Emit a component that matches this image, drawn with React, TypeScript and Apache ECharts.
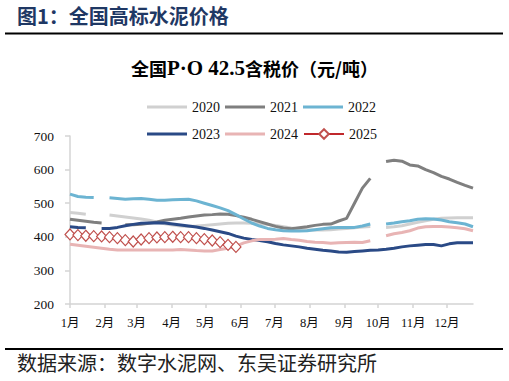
import React, { useEffect, useRef } from "react";
import * as echarts from "echarts";

const monthLabels = ["1月", "2月", "3月", "4月", "5月", "6月", "7月", "8月", "9月", "10月", "11月", "12月"];
const monthStartDays = [0, 31, 59, 90, 120, 151, 181, 212, 243, 273, 304, 334];
const yearNames = ["2020", "2021", "2022", "2023", "2024", "2025"];

// weekly prices (元/吨), week 1 .. week 52; null = no quote (holiday)
const p2020 = [472, 470, 467, null, null, 465, 462, 459, 456, 453, 449, 444, 439, 435, 432, 431, 432, 434, 436, 438, 440, 441, 441, 440, 439, 437, 434, 430, 426, 423, 421, 420, 420, 421, 423, 425, 427, 429, 431, null, 428, 430, 433, 438, 443, 448, 452, 455, 456, 457, 457, 457];
const p2021 = [452, 449, 446, 443, 441, null, null, 436, 436, 437, 440, 444, 449, 452, 455, 459, 462, 465, 466, 468, 467, 463, 458, 452, 445, 438, 431, 426, 424, 427, 430, 434, 437, 438, 447, 455, 500, 545, 574, null, 624, 628, 625, 614, 611, 600, 591, 580, 572, 562, 553, 545];
const p2022 = [527, 520, 518, 517, null, 516, 514, 512, 513, 514, 512, 509, 509, 510, 511, 512, 507, 500, 493, 486, 478, 466, 453, 441, 432, 425, 421, 418, 417, 417, 418, 421, 424, 427, 428, 428, 428, 432, 438, null, 438, 441, 445, 448, 452, 454, 453, 450, 445, 442, 438, 430];
const p2023 = [430, 428, 427, null, 425, 425, 428, 433, 437, 440, 441, 442, 441, 438, 435, 432, 429, 425, 420, 415, 410, 402, 396, 392, 389, 385, 380, 376, 373, 370, 366, 363, 360, 358, 355, 354, 356, 358, 360, 361, 363, 366, 370, 373, 375, 377, 377, 373, 379, 382, 382, 382];
const p2024 = [378, 375, 372, 369, 366, 363, 361, 361, 361, 361, 361, 361, 361, 361, 362, 361, 359, 358, 358, 362, 366, 372, 382, 388, 392, 392, 393, 395, 392, 390, 386, 384, 383, 381, 382, 383, 384, 383, 388, null, 403, 409, 413, 418, 426, 430, 431, 431, 429, 427, 424, 418];
const p2025 = [407, 405, 403, 402, 401, 399, 396, 390, 386, 392, 396, 398, 399, 400, 399, 399, 396, 393, 389, 384, 376, 370];

const seriesValues = [p2020, p2021, p2022, p2023, p2024, p2025];
const seriesColors = ["#d0d0d0", "#7f7f7f", "#6cb4d2", "#2a4a86", "#e8b4b4", "#c0282c"];

const SERIF = "'Times New Roman', 'Liberation Serif', 'Noto Sans CJK SC', serif";
const CJK = "'Noto Sans CJK SC', 'Liberation Serif', sans-serif";
const LINE_ICON = "path://M0,0 L40,0 L40,3 L0,3 Z";

export default function App() {
  const ref = useRef<HTMLDivElement>(null);

  useEffect(() => {
    document.body.style.margin = "0";
    if (!ref.current) return;
    const chart = echarts.init(ref.current, undefined, { renderer: "svg" });

    const series = seriesValues.map((vals, si) => {
      const isLast = si === 5;
      return {
        name: yearNames[si],
        type: "line",
        data: vals.map((v, i) => [i * 7, v === null ? "-" : v]),
        connectNulls: false,
        symbol: isLast ? "diamond" : "none",
        symbolSize: isLast ? [10, 11] : 0,
        showSymbol: isLast,
        lineStyle: { color: seriesColors[si], width: isLast ? 2.5 : 3 },
        itemStyle: isLast
          ? { color: "#ffffff", borderColor: "#c0504d", borderWidth: 1.2 }
          : { color: seriesColors[si] },
        z: 2 + si,
      };
    });

    const legendItem = (name: string, i: number) =>
      i === 5 ? { name } : { name, icon: LINE_ICON };

    const legendCommon = {
      left: 142,
      itemWidth: 40,
      itemHeight: 12,
      itemGap: 5,
      textStyle: { fontFamily: SERIF, fontSize: 14, color: "#111" },
    };

    chart.setOption({
      animation: false,
      backgroundColor: "#ffffff",
      title: {
        left: "center",
        top: 52,
        text: "{c|全国}{l|P·O 42.5}{c|含税价（元/吨）}",
        textStyle: {
          rich: {
            c: { fontFamily: CJK, fontWeight: "bold", fontSize: 18, color: "#000" },
            l: { fontFamily: SERIF, fontWeight: "bold", fontSize: 21, color: "#000" },
          },
        },
      },
      legend: [
        { ...legendCommon, top: 95, data: yearNames.slice(0, 3).map((n, i) => legendItem(n, i)) },
        { ...legendCommon, top: 122, data: yearNames.slice(3, 6).map((n, i) => legendItem(n, i + 3)) },
      ],
      grid: { left: 70, right: 36, top: 136, bottom: 77 },
      xAxis: {
        type: "value",
        min: 0,
        max: 357,
        splitLine: { show: false },
        axisLine: { show: true, lineStyle: { color: "#d4d4d4", width: 1.5 } },
        axisTick: {
          show: true,
          length: 4,
          customValues: monthStartDays,
          lineStyle: { color: "#d4d4d4", width: 1.5 },
        },
        axisLabel: {
          customValues: monthStartDays,
          margin: 13,
          fontFamily: SERIF,
          fontSize: 12.5,
          color: "#111",
          formatter: (v: number) => {
            const idx = monthStartDays.indexOf(Math.round(v));
            return idx >= 0 ? monthLabels[idx] : "";
          },
        },
      },
      yAxis: {
        type: "value",
        min: 200,
        max: 700,
        interval: 100,
        splitLine: { show: false },
        axisLine: { show: true, lineStyle: { color: "#d4d4d4", width: 1.5 } },
        axisTick: { show: true, length: 5, lineStyle: { color: "#d4d4d4", width: 1.5 } },
        axisLabel: { margin: 16, fontFamily: SERIF, fontSize: 13.5, color: "#111" },
      },
      graphic: [
        {
          type: "text",
          left: 17,
          top: 5,
          style: { text: "图1：全国高标水泥价格", fontFamily: CJK, fontWeight: "bold", fontSize: 20, fill: "#1f3864" },
        },
        {
          type: "line",
          shape: { x1: 5, y1: 33.5, x2: 503, y2: 33.5 },
          style: { stroke: "#000", lineWidth: 2 },
        },
        {
          type: "line",
          shape: { x1: 5, y1: 349, x2: 503, y2: 349 },
          style: { stroke: "#000", lineWidth: 2 },
        },
        {
          type: "text",
          left: 17,
          top: 352,
          style: { text: "数据来源：数字水泥网、东吴证券研究所", fontFamily: CJK, fontSize: 20, fill: "#222" },
        },
      ],
      series,
    });

    return () => chart.dispose();
  }, []);

  return <div ref={ref} style={{ width: 509, height: 381 }} />;
}
